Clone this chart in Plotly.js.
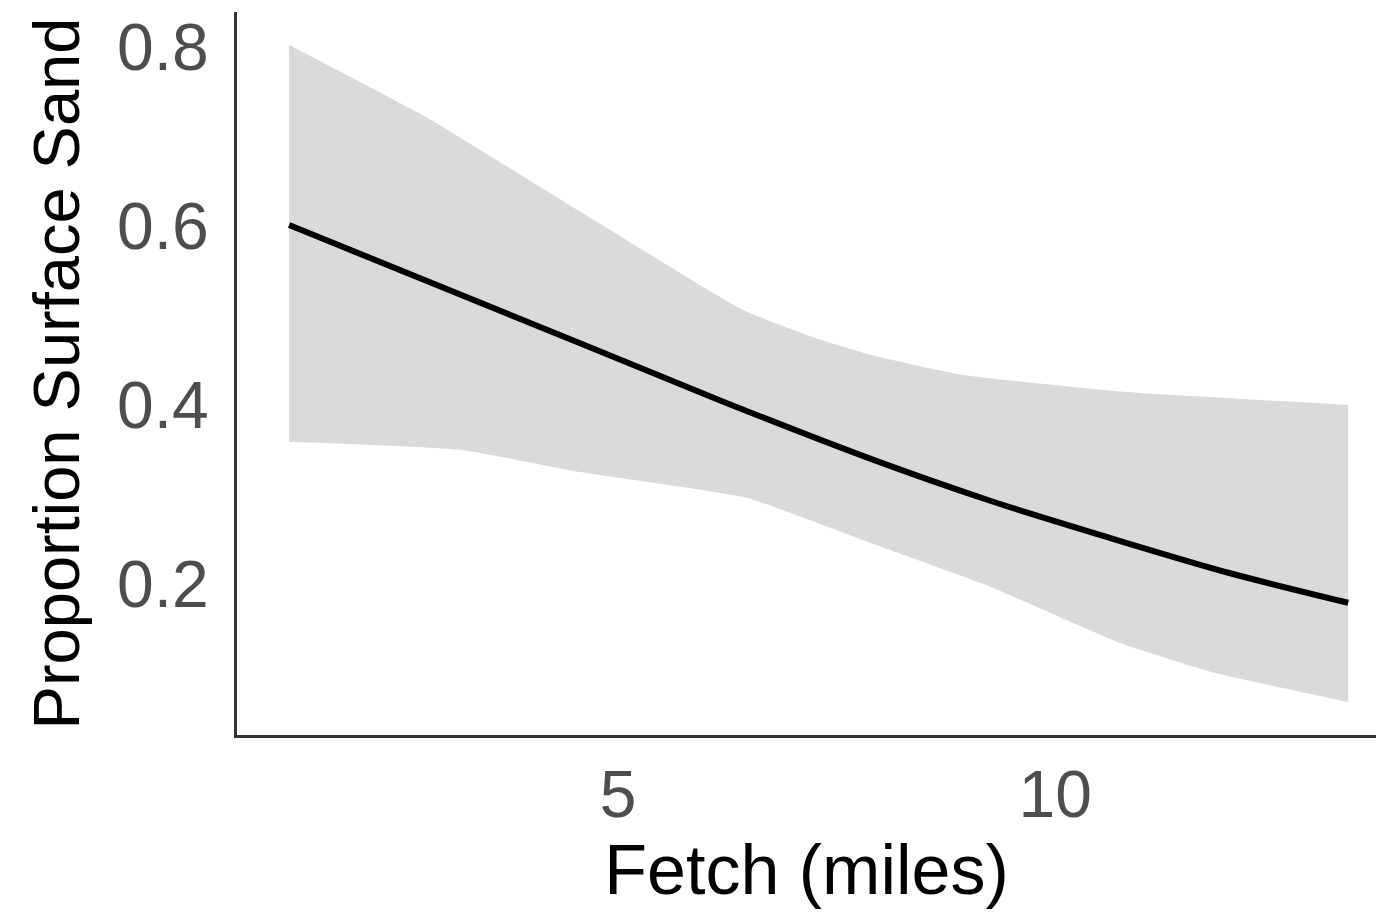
<!DOCTYPE html>
<html>
<head>
<meta charset="utf-8">
<script src="https://cdn.plot.ly/plotly-3.0.1.min.js"></script>
<style>html,body{margin:0;padding:0;background:#fff;}#chart{width:1376px;height:914px;}</style>
</head>
<body>
<div id="chart"></div>
<script>
// Fitted line
const fitX = [1.236, 4.565, 6.167, 7.883, 9.256, 10.744, 12.002, 13.352];
const fitY = [0.601, 0.469, 0.405, 0.340, 0.293, 0.248, 0.212, 0.179];
// Confidence band upper edge
const upperX = [1.236, 2.849, 4.565, 6.430, 7.311, 7.883, 8.913, 10.744, 13.352];
const upperY = [0.802, 0.719, 0.616, 0.506, 0.473, 0.456, 0.434, 0.415, 0.400];
// Confidence band lower edge
const lowerX = [1.236, 3.192, 4.565, 6.476, 7.883, 9.256, 10.744, 11.773, 13.352];
const lowerY = [0.359, 0.350, 0.325, 0.296, 0.246, 0.197, 0.134, 0.102, 0.068];
// Ticks
const xTicks = [5, 10];
const xTickLabels = ['5', '10'];
const yTicks = [0.2, 0.4, 0.6, 0.8];
const yTickLabels = ['0.2', '0.4', '0.6', '0.8'];

const traces = [
  {
    x: lowerX, y: lowerY, type: 'scatter', mode: 'lines',
    line: {width: 0, color: 'rgba(0,0,0,0)', shape: 'spline', smoothing: 0.4},
    hoverinfo: 'skip', showlegend: false
  },
  {
    x: upperX, y: upperY, type: 'scatter', mode: 'lines',
    fill: 'tonexty', fillcolor: '#dadada',
    line: {width: 0, color: 'rgba(0,0,0,0)', shape: 'spline', smoothing: 0.4},
    hoverinfo: 'skip', showlegend: false
  },
  {
    x: fitX, y: fitY, type: 'scatter', mode: 'lines',
    line: {color: '#000000', width: 6, shape: 'spline', smoothing: 0.8},
    showlegend: false
  }
];

const layout = {
  width: 1376, height: 914,
  margin: {l: 237, r: 0, t: 12, b: 179},
  paper_bgcolor: '#ffffff', plot_bgcolor: '#ffffff',
  font: {family: '"Liberation Sans", Arial, sans-serif'},
  showlegend: false,
  xaxis: {
    range: [0.64, 13.67],
    tickvals: xTicks, ticktext: xTickLabels,
    showgrid: false, zeroline: false,
    showline: true, linecolor: '#333333', linewidth: 3,
    ticks: '', ticklabelstandoff: 0,
    tickfont: {size: 66, color: '#4d4d4d'},
    title: {text: 'Fetch (miles)', font: {size: 70, color: '#000000'}, standoff: 10}
  },
  yaxis: {
    range: [0.0313, 0.839],
    tickvals: yTicks, ticktext: yTickLabels,
    showgrid: false, zeroline: false,
    showline: true, linecolor: '#333333', linewidth: 3,
    ticks: '', ticklabelstandoff: 12,
    automargin: true,
    tickfont: {size: 66, color: '#4d4d4d'},
    title: {text: 'Proportion Surface Sand', font: {size: 65, color: '#000000'}, standoff: 17}
  }
};

Plotly.newPlot('chart', traces, layout, {displayModeBar: false, staticPlot: true});
</script>
</body>
</html>
